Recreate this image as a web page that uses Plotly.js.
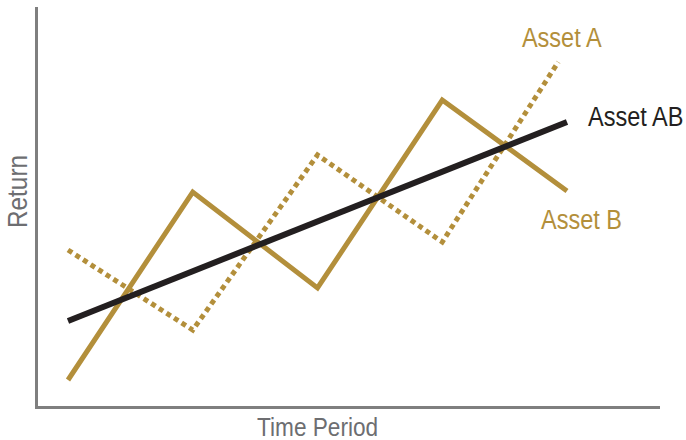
<!DOCTYPE html>
<html>
<head>
<meta charset="utf-8">
<script src="https://cdn.plot.ly/plotly-3.0.1.min.js"></script>
<style>html,body{margin:0;padding:0;background:#fff;}#chart{width:686px;height:440px;}</style>
</head>
<body>
<div id="chart"></div>
<script>
const periods = [0, 1, 2, 3, 4];
const periodsA = [0, 1, 2, 3, 3.93];
const assetA = [39, 19, 62.75, 41, 86];
const assetB = [6.5, 53.5, 29.5, 76.5, 53.75];
const periodsAB = [0, 4];
const assetAB = [21.25, 71];
const seriesLabels = ["Asset A", "Asset B", "Asset AB"];
const axisLabels = {x: "Time Period", y: "Return"};

const gold = "#B38F3B";
const dark = "#231F20";
const grey = "#6D6E71";
const font = "'Liberation Sans', Arial, Helvetica, sans-serif";
const condense = 0.87;

const traces = [
  {x: periodsA, y: assetA, mode: "lines", name: seriesLabels[0],
   line: {color: gold, width: 5, dash: "5px,4px"}},
  {x: periods, y: assetB, mode: "lines", name: seriesLabels[1],
   line: {color: gold, width: 5}},
  {x: periodsAB, y: assetAB, mode: "lines", name: seriesLabels[2],
   line: {color: dark, width: 6}}
];

const layout = {
  width: 686, height: 440,
  margin: {l: 38, r: 26, t: 7, b: 34},
  showlegend: false,
  paper_bgcolor: "#fff", plot_bgcolor: "#fff",
  font: {family: font, color: grey},
  xaxis: {range: [-0.2405, 4.7455], showgrid: false, zeroline: false,
    showticklabels: false, ticks: "", showline: true, linecolor: "#7F7F7F", linewidth: 3},
  yaxis: {range: [0, 99.75], showgrid: false, zeroline: false,
    showticklabels: false, ticks: "", showline: true, linecolor: "#7F7F7F", linewidth: 3},
  annotations: [
    {x: 3.96, y: 92, text: seriesLabels[0], showarrow: false, xanchor: "center", yanchor: "middle",
     font: {family: font, size: 27, color: gold}},
    {x: 4.116, y: 46.5, text: seriesLabels[1], showarrow: false, xanchor: "center", yanchor: "middle",
     font: {family: font, size: 27, color: gold}},
    {x: 4.553, y: 72.25, text: seriesLabels[2], showarrow: false, xanchor: "center", yanchor: "middle",
     font: {family: font, size: 27, color: dark}},
    {xref: "paper", yref: "paper", x: 0.4486, y: -0.0526, text: axisLabels.x, showarrow: false,
     xanchor: "center", yanchor: "middle", font: {family: font, size: 26, color: grey}},
    {xref: "paper", yref: "paper", x: -0.033, y: 0.5388, text: axisLabels.y, showarrow: false,
     textangle: -90, xanchor: "center", yanchor: "middle", font: {family: font, size: 28, color: grey}}
  ]
};

Plotly.newPlot("chart", traces, layout, {displayModeBar: false, staticPlot: true}).then(function (gd) {
  gd.querySelectorAll(".annotation-text").forEach(function (t) {
    const x = parseFloat(t.getAttribute("x")) || 0;
    const y = parseFloat(t.getAttribute("y")) || 0;
    const prev = t.getAttribute("transform") || "";
    t.setAttribute("transform", prev + " translate(" + x + "," + y + ") scale(" + condense + ",1) translate(" + (-x) + "," + (-y) + ")");
  });
});
</script>
</body>
</html>
